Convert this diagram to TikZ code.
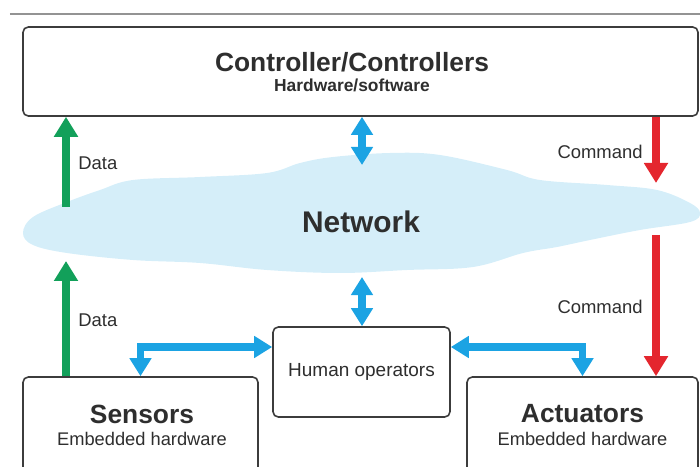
\documentclass[tikz,border=0pt]{standalone}
\usepackage{fontspec}
\setmainfont{Liberation Sans}
\usetikzlibrary{arrows.meta,positioning,calc}
\definecolor{ncgreen}{HTML}{12A05A}
\definecolor{ncred}{HTML}{E4262E}
\definecolor{ncblue}{HTML}{1BA3E3}
\definecolor{nccloud}{HTML}{D5EEF9}
\definecolor{nctext}{HTML}{2E2E2E}
\definecolor{ncedge}{HTML}{3C3C3C}

\begin{document}
\begin{tikzpicture}[
  text=nctext,
  box/.style={draw=ncedge, line width=0.9pt, rounded corners=3pt, fill=white},
  head/.style={anchor=base, inner sep=0pt, font=\fontsize{15}{18}\selectfont\bfseries},
  sub/.style={anchor=base, inner sep=0pt, font=\fontsize{10.4}{12.5}\selectfont},
  lbl/.style={inner sep=0pt, font=\fontsize{10.5}{12.6}\selectfont},
  netlbl/.style={inner sep=0pt, font=\fontsize{17}{20}\selectfont\bfseries},
  dataarr/.style={draw=ncgreen, line width=4.5pt, -{Triangle[length=4mm,width=4.6mm]}},
  cmdarr/.style={draw=ncred, line width=4.5pt, -{Triangle[length=4mm,width=4.6mm]}},
  linkarr/.style={draw=ncblue, line width=4pt,
                  {Triangle[length=3.6mm,width=4.2mm]}-{Triangle[length=3.6mm,width=4.2mm]}},
]
\useasboundingbox (0,0) rectangle (14,9.32);
\clip (0,0) rectangle (14,9.32);

% ---- top rule ----
\draw[gray!85, line width=0.8pt] (0.2,9.04) -- (14,9.04);

% ---- network cloud ----
\fill[nccloud] plot[smooth cycle, tension=0.6] coordinates {
  (0.46,4.66) (0.66,4.98) (1.34,5.28) (2.0,5.52) (2.66,5.72) (4.0,5.78)
  (5.34,5.86) (6.0,6.06) (6.66,6.18) (7.8,6.26) (8.8,6.22) (10.14,5.92)
  (10.8,5.72) (12.14,5.62) (13.14,5.52) (13.8,5.26) (14.0,5.06)
  (13.8,4.88) (12.8,4.72) (11.8,4.52) (11.14,4.38) (10.46,4.26) (9.46,3.98)
  (8.14,3.92) (6.8,3.86) (5.34,3.92) (4.0,4.06) (2.66,4.12) (1.34,4.26)
  (0.66,4.42)};
\node[netlbl] (net) at (7.22,4.88) {Network};

% ---- cloud edge points ----
\coordinate (netNW) at (1.32,5.18);
\coordinate (netSW) at (1.32,4.10);
\coordinate (netNE) at (13.12,5.66);
\coordinate (netSE) at (13.12,4.62);
\coordinate (netN) at (7.24,6.02);
\coordinate (netS) at (7.24,3.78);

% ---- controller ----
\node[box, minimum width=13.5cm, minimum height=1.78cm] (ctrl) at (7.21,7.89) {};
\node[head] (ctrlttl) at (7.04,7.88) {Controller/Controllers};
\node[sub, font=\fontsize{9.9}{12}\selectfont\bfseries] (ctrlsub) at (7.04,7.48) {Hardware/software};

% ---- field devices ----
\node[box, minimum width=4.7cm, minimum height=2.08cm] (sens) at (2.81,0.74) {};
\node[head] (senttl) at (2.84,0.86) {Sensors};
\node[sub] (sensub) at (2.84,0.42) {Embedded hardware};

\node[box, minimum width=4.62cm, minimum height=2.08cm] (act) at (11.65,0.74) {};
\node[head] (actttl) at (11.65,0.88) {Actuators};
\node[sub] (actsub) at (11.65,0.42) {Embedded hardware};

\node[box, minimum width=3.54cm, minimum height=1.8cm,
      font=\fontsize{10.8}{13}\selectfont] (hum) at (7.23,1.88) {Human operators};

% ---- labels ----
\node[lbl, anchor=west] (dat1) at (1.56,6.06) {Data};
\node[lbl, anchor=west] (dat2) at (1.56,2.92) {Data};
\node[lbl, anchor=east] (cmd1) at (12.86,6.28) {Command};
\node[lbl, anchor=east] (cmd2) at (12.86,3.18) {Command};

% ---- data flow ----
\draw[dataarr] (netNW) -- (netNW |- ctrl.south);
\draw[dataarr] (netSW |- sens.north) -- (netSW);
\draw[cmdarr] (netNE |- ctrl.south) -- (netNE);
\draw[cmdarr] (netSE) -- (netSE |- act.north);

% ---- network links ----
\draw[linkarr] (netN |- ctrl.south) -- (netN);
\draw[linkarr] (netS) -- (netS |- hum.north);
\draw[linkarr] (sens.north) |- ([yshift=5mm]hum.west);
\draw[linkarr] ([yshift=5mm]hum.east) -| (act.north);

\end{tikzpicture}
\end{document}
